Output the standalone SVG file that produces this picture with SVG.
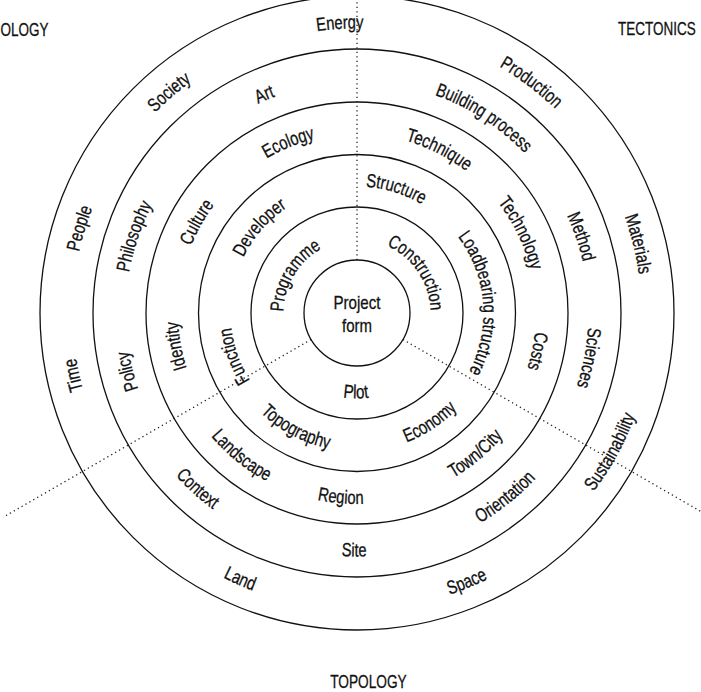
<svg xmlns="http://www.w3.org/2000/svg" xmlns:xlink="http://www.w3.org/1999/xlink" width="701" height="692" viewBox="0 0 701 692">
<style>
.ring{fill:none;stroke:#111;stroke-width:1.3}
.div{fill:none;stroke:#222;stroke-width:1.3;stroke-dasharray:1.3 3.2}
.lbl{font-family:"Liberation Sans Narrow","Liberation Sans",Arial,sans-serif;font-size:19px;fill:#111;stroke:#111;stroke-width:0.3}
.corner{font-family:"Liberation Sans Narrow","Liberation Sans",Arial,sans-serif;font-size:18px;fill:#111;stroke:#111;stroke-width:0.3}
</style>
<defs>
<path id="cw1" d="M 283.5 313 A 73.5 73.5 0 0 1 430.5 313"/>
<path id="cw2" d="M 230.5 313 A 126.5 126.5 0 0 1 483.5 313"/>
<path id="cw3" d="M 178 313 A 179 179 0 0 1 536 313"/>
<path id="cw4" d="M 125.5 313 A 231.5 231.5 0 0 1 588.5 313"/>
<path id="cw5" d="M 72.5 313 A 284.5 284.5 0 0 1 641.5 313"/>
<path id="cc1" d="M 271.5 313 A 85.5 85.5 0 0 0 442.5 313"/>
<path id="cc2" d="M 218.5 313 A 138.5 138.5 0 0 0 495.5 313"/>
<path id="cc3" d="M 166 313 A 191 191 0 0 0 548 313"/>
<path id="cc4" d="M 113.5 313 A 243.5 243.5 0 0 0 600.5 313"/>
<path id="cc5" d="M 60.5 313 A 296.5 296.5 0 0 0 653.5 313"/>
</defs>

<g id="rings">
<circle class="ring" cx="357" cy="313" r="317"/>
<circle class="ring" cx="357" cy="313" r="264"/>
<circle class="ring" cx="357" cy="313" r="211"/>
<circle class="ring" cx="357" cy="313" r="158.5"/>
<circle class="ring" cx="357" cy="313" r="106"/>
</g>

<g id="connectors">
<line class="div" x1="357" y1="260" x2="357" y2="-10"/>
<line class="div" x1="311.1" y1="339.5" x2="3" y2="517.3"/>
<line class="div" x1="402.9" y1="339.5" x2="711" y2="517.3"/>
</g>

<g id="center">
<circle class="ring" cx="357" cy="313" r="53"/>
<text class="lbl" x="357" y="309" text-anchor="middle" textLength="47" lengthAdjust="spacingAndGlyphs">Project</text>
<text class="lbl" x="357" y="332" text-anchor="middle" textLength="30" lengthAdjust="spacingAndGlyphs">form</text>
</g>

<g id="labels-outward" class="lbl" text-anchor="middle">
<g id="l-energy"><text transform="rotate(-3.4 357 313)"><textPath href="#cw5" startOffset="50%" textLength="46.8" lengthAdjust="spacingAndGlyphs">Energy</textPath></text></g>
<g id="l-society"><text transform="rotate(-40.4 357 313)"><textPath href="#cw5" startOffset="50%" textLength="48.4" lengthAdjust="spacingAndGlyphs">Society</textPath></text></g>
<g id="l-people"><text transform="rotate(-73 357 313)"><textPath href="#cw5" startOffset="50%" textLength="45.9" lengthAdjust="spacingAndGlyphs">People</textPath></text></g>
<g id="l-time"><text transform="rotate(-102.4 357 313)"><textPath href="#cw5" startOffset="50%" textLength="32.8" lengthAdjust="spacingAndGlyphs">Time</textPath></text></g>
<g id="l-production"><text transform="rotate(37.1 357 313)"><textPath href="#cw5" startOffset="50%" textLength="70.6" lengthAdjust="spacingAndGlyphs">Production</textPath></text></g>
<g id="l-materials"><text transform="rotate(76.2 357 313)"><textPath href="#cw5" startOffset="50%" textLength="59.9" lengthAdjust="spacingAndGlyphs">Materials</textPath></text></g>

<g id="l-art"><text transform="rotate(-23 357 313)"><textPath href="#cw4" startOffset="50%" textLength="18.9" lengthAdjust="spacingAndGlyphs">Art</textPath></text></g>
<g id="l-philosophy"><text transform="rotate(-71 357 313)"><textPath href="#cw4" startOffset="50%" textLength="72.2" lengthAdjust="spacingAndGlyphs">Philosophy</textPath></text></g>
<g id="l-policy"><text transform="rotate(-104.3 357 313)"><textPath href="#cw4" startOffset="50%" textLength="39.4" lengthAdjust="spacingAndGlyphs">Policy</textPath></text></g>
<g id="l-building"><text transform="rotate(33 357 313)"><textPath href="#cw4" startOffset="50%" textLength="108.3" lengthAdjust="spacingAndGlyphs">Building process</textPath></text></g>
<g id="l-method"><text transform="rotate(71.2 357 313)"><textPath href="#cw4" startOffset="50%" textLength="49.2" lengthAdjust="spacingAndGlyphs">Method</textPath></text></g>
<g id="l-sciences"><text transform="rotate(101 357 313)"><textPath href="#cw4" startOffset="50%" textLength="59.9" lengthAdjust="spacingAndGlyphs">Sciences</textPath></text></g>

<g id="l-ecology"><text transform="rotate(-22 357 313)"><textPath href="#cw3" startOffset="50%" textLength="52.5" lengthAdjust="spacingAndGlyphs">Ecology</textPath></text></g>
<g id="l-culture"><text transform="rotate(-60.4 357 313)"><textPath href="#cw3" startOffset="50%" textLength="47.6" lengthAdjust="spacingAndGlyphs">Culture</textPath></text></g>
<g id="l-identity"><text transform="rotate(-100.4 357 313)"><textPath href="#cw3" startOffset="50%" textLength="47.6" lengthAdjust="spacingAndGlyphs">Identity</textPath></text></g>
<g id="l-technique"><text transform="rotate(26.7 357 313)"><textPath href="#cw3" startOffset="50%" textLength="68.9" lengthAdjust="spacingAndGlyphs">Technique</textPath></text></g>
<g id="l-technology"><text transform="rotate(64 357 313)"><textPath href="#cw3" startOffset="50%" textLength="76.3" lengthAdjust="spacingAndGlyphs">Technology</textPath></text></g>
<g id="l-costs"><text transform="rotate(102 357 313)"><textPath href="#cw3" startOffset="50%" textLength="37.7" lengthAdjust="spacingAndGlyphs">Costs</textPath></text></g>

<g id="l-developer"><text transform="rotate(-48.8 357 313)"><textPath href="#cw2" startOffset="50%" textLength="67.3" lengthAdjust="spacingAndGlyphs">Developer</textPath></text></g>
<g id="l-function"><text transform="rotate(-109.4 357 313)"><textPath href="#cw2" startOffset="50%" textLength="56.6" lengthAdjust="spacingAndGlyphs">Function</textPath></text></g>
<g id="l-structure"><text transform="rotate(17.5 357 313)"><textPath href="#cw2" startOffset="50%" textLength="59.9" lengthAdjust="spacingAndGlyphs">Structure</textPath></text></g>
<g id="l-loadbearing"><text transform="rotate(85.3 357 313)"><textPath href="#cw2" startOffset="50%" textLength="143.6" lengthAdjust="spacingAndGlyphs">Loadbearing structure</textPath></text></g>

<g id="l-programme"><text transform="rotate(-59 357 313)"><textPath href="#cw1" startOffset="50%" textLength="77.1" lengthAdjust="spacingAndGlyphs">Programme</textPath></text></g>
<g id="l-construction"><text transform="rotate(56 357 313)"><textPath href="#cw1" startOffset="50%" textLength="82.8" lengthAdjust="spacingAndGlyphs">Construction</textPath></text></g>
</g>

<g id="labels-inward" class="lbl" text-anchor="middle">
<g id="l-plot"><text transform="rotate(0.7 357 313)"><textPath href="#cc1" startOffset="50%" textLength="26" lengthAdjust="spacingAndGlyphs">Plot</textPath></text></g>
<g id="l-economy"><text transform="rotate(-33.6 357 313)"><textPath href="#cc2" startOffset="50%" textLength="61.5" lengthAdjust="spacingAndGlyphs">Economy</textPath></text></g>
<g id="l-topography"><text transform="rotate(28 357 313)"><textPath href="#cc2" startOffset="50%" textLength="78.8" lengthAdjust="spacingAndGlyphs">Topography</textPath></text></g>
<g id="l-landscape"><text transform="rotate(39 357 313)"><textPath href="#cc3" startOffset="50%" textLength="72.2" lengthAdjust="spacingAndGlyphs">Landscape</textPath></text></g>
<g id="l-region"><text transform="rotate(5 357 313)"><textPath href="#cc3" startOffset="50%" textLength="46.8" lengthAdjust="spacingAndGlyphs">Region</textPath></text></g>
<g id="l-towncity"><text transform="rotate(-40.1 357 313)"><textPath href="#cc3" startOffset="50%" textLength="65.6" lengthAdjust="spacingAndGlyphs">Town/City</textPath></text></g>
<g id="l-context"><text transform="rotate(42.2 357 313)"><textPath href="#cc4" startOffset="50%" textLength="50.9" lengthAdjust="spacingAndGlyphs">Context</textPath></text></g>
<g id="l-site"><text transform="rotate(0.7 357 313)"><textPath href="#cc4" startOffset="50%" textLength="25.4" lengthAdjust="spacingAndGlyphs">Site</textPath></text></g>
<g id="l-orientation"><text transform="rotate(-38.8 357 313)"><textPath href="#cc4" startOffset="50%" textLength="72.2" lengthAdjust="spacingAndGlyphs">Orientation</textPath></text></g>
<g id="l-land"><text transform="rotate(23.7 357 313)"><textPath href="#cc5" startOffset="50%" textLength="32.8" lengthAdjust="spacingAndGlyphs">Land</textPath></text></g>
<g id="l-space"><text transform="rotate(-22.2 357 313)"><textPath href="#cc5" startOffset="50%" textLength="41.8" lengthAdjust="spacingAndGlyphs">Space</textPath></text></g>
<g id="l-sustainability"><text transform="rotate(-61.3 357 313)"><textPath href="#cc5" startOffset="50%" textLength="87" lengthAdjust="spacingAndGlyphs">Sustainability</textPath></text></g>
</g>

<g id="corners">
<text class="corner" transform="translate(0.5 36) scale(0.75 1)" x="0" y="0">OLOGY</text>
<text class="corner" transform="translate(618 35) scale(0.75 1)" x="0" y="0">TECTONICS</text>
<text class="corner" transform="translate(368.5 688) scale(0.76 1)" x="0" y="0" text-anchor="middle">TOPOLOGY</text>
</g>
</svg>
